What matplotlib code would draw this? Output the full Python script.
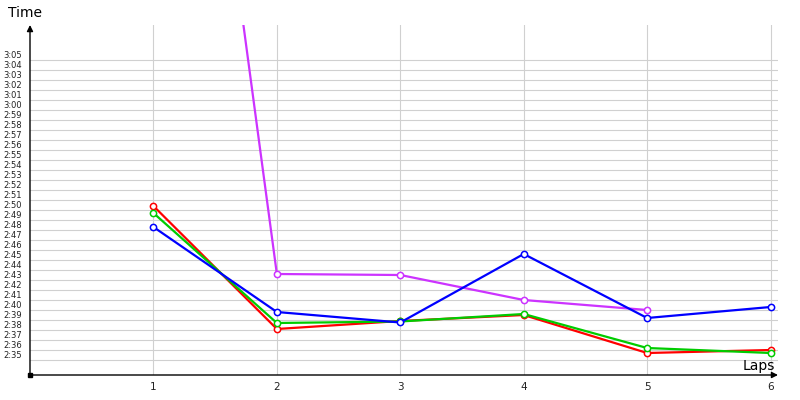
import matplotlib
matplotlib.use('Agg')
import matplotlib.pyplot as plt
from matplotlib.ticker import FuncFormatter, MultipleLocator

# lap times in seconds
laps = [1, 2, 3, 4, 5, 6]
red_times = [169.9, 157.6, 158.4, 159.0, 155.2, 155.5]
green_times = [169.2, 158.2, 158.35, 159.1, 155.7, 155.2]
blue_times = [167.8, 159.3, 158.25, 165.1, 158.7, 159.8]
magenta_laps = [1, 2, 3, 4, 5]
magenta_times = [255.0, 163.1, 163.0, 160.5, 159.5]

Y_MIN, Y_MAX = 153.0, 188.0
LABEL_MIN, LABEL_MAX = 155, 185


def fmt_time(v, pos=None):
    if v < LABEL_MIN - 0.01 or v > LABEL_MAX + 0.01:
        return ''
    s = int(round(v))
    return f'{s // 60}:{s % 60:02d}'


fig = plt.figure(figsize=(8, 4), dpi=100)
ax = fig.add_axes([30 / 800, 25 / 400, 748 / 800, 350 / 400])

series = [
    (magenta_laps, magenta_times, '#cc33ff'),
    (laps, red_times, '#ff0000'),
    (laps, green_times, '#00cc00'),
    (laps, blue_times, '#0000ff'),
]
for xs, ys, col in series:
    ax.plot(xs, ys, color=col, lw=1.6, marker='o', ms=4.5,
            mfc='white', mec=col, mew=1.1, zorder=3)

ax.set_xlim(0, 6.06)
ax.set_ylim(Y_MIN, Y_MAX)

ax.set_xticks(laps)
ax.set_yticks(range(LABEL_MIN, LABEL_MAX + 1))
ax.yaxis.set_major_formatter(FuncFormatter(fmt_time))
ax.set_yticks([v + 0.5 for v in range(LABEL_MIN - 1, LABEL_MAX)], minor=True)

ax.tick_params(axis='y', which='both', length=0, labelsize=6, pad=6,
               labelcolor='#222222')
ax.tick_params(axis='x', length=0, labelsize=7.5, pad=5, labelcolor='#222222')

ax.grid(axis='y', which='minor', color='#d0d0d0', lw=0.8)
ax.grid(axis='x', which='major', color='#d0d0d0', lw=0.8)
ax.set_axisbelow(True)

for sp in ax.spines.values():
    sp.set_visible(False)

# axes drawn as arrows
ax.annotate('', xy=(1.0, 0), xytext=(0, 0), xycoords='axes fraction',
            arrowprops=dict(arrowstyle='-|>', color='black', lw=1.0,
                            mutation_scale=9, shrinkA=0, shrinkB=0))
ax.annotate('', xy=(0, 1.0), xytext=(0, 0), xycoords='axes fraction',
            arrowprops=dict(arrowstyle='-|>', color='black', lw=1.0,
                            mutation_scale=9, shrinkA=0, shrinkB=0))
ax.plot([0], [Y_MIN], 's', color='black', ms=2.5, clip_on=False, zorder=5)

fig.text(8 / 800, 1 - 6 / 400, 'Time', fontsize=10, ha='left', va='top')
fig.text(775 / 800, 1 - 370 / 400, 'Laps', fontsize=10, ha='right',
         va='baseline')

fig.savefig('out.png', dpi=100)
